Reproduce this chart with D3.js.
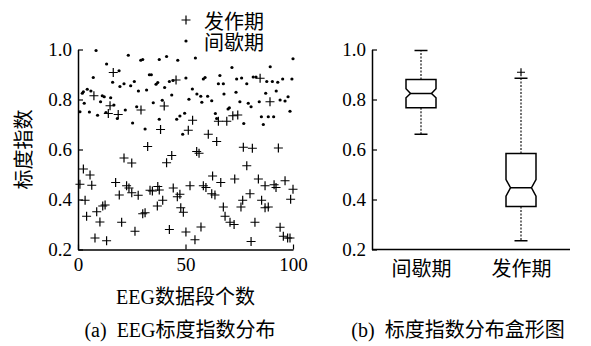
<!DOCTYPE html>
<html>
<head>
<meta charset="utf-8">
<script src="https://cdn.jsdelivr.net/npm/d3@7"></script>
<style>
  body { margin: 0; background: #fff; }
  text { font-family: "Liberation Serif", "Noto Sans CJK SC", serif; fill: #000; }
</style>
</head>
<body>
<svg id="chart" width="591" height="346"></svg>
<script>
// ---- scatter data: scaling index per EEG segment ----
// 发作期 (ictal) segments
const ictalX = [16.4,45.6,84.7,7.4,14.9,14.1,18.7,29.3,40.1,38.4,51.3,53.3,60.6,64.5,65.3,69.2,72,74.3,89.3,
  32.4,55.2,56.3,76.9,81.1,93.2,21.4,25,41.2,43.6,78.5,2.5,5.6,0.9,6.4,17.5,22.6,23.7,25,19.2,28,
  33.5,34.6,37.1,37.8,44.3,46.2,47.4,52.1,58.3,59.5,62.6,66.4,62.2,63.7,72.9,80,83.9,87,91.2,92.1,
  96.3,100,3.3,8.7,11.5,12.6,4,10.2,20.3,30.1,31.2,36.9,39.4,47.8,49,67.6,68.4,70.7,72.6,75.8,
  76.6,85.4,87,88.5,98.9,82.3,26.5,42.5,50.2,57.2,7.9,13.3,54.4,80.5,94,95.5,97.5,98.6];
const ictalY = [0.908,0.878,0.885,0.815,0.775,0.744,0.74,0.758,0.774,0.68,0.677,0.717,0.661,0.632,0.713,0.713,0.735,0.738,0.791,
  0.612,0.592,0.585,0.609,0.605,0.606,0.566,0.546,0.547,0.576,0.535,0.522,0.498,0.461,0.457,0.468,0.455,0.446,0.427,0.418,0.417,
  0.437,0.434,0.452,0.438,0.446,0.411,0.421,0.455,0.455,0.448,0.494,0.468,0.423,0.418,0.482,0.423,0.482,0.455,0.459,0.448,
  0.475,0.441,0.397,0.351,0.374,0.378,0.333,0.31,0.309,0.343,0.347,0.374,0.397,0.367,0.349,0.37,0.333,0.309,0.30,0.37,
  0.397,0.397,0.367,0.37,0.401,0.309,0.273,0.28,0.27,0.29,0.246,0.235,0.239,0.232,0.289,0.253,0.246,0.246];

// 间歇期 (interictal) segments
const interX = [8.4,23.4,13.3,29.2,30.1,37.8,41.2,46.4,54.6,71.6,89.4,100,7.1,16.1,19.5,21.4,24.5,26.2,33.2,34.1,
  28.1,31.9,36.3,37.1,40.3,42.5,44.2,50.2,58.3,59.1,66,65.3,67.6,73.8,76.1,78.5,81.5,82.8,87.8,90.4,
  92.9,95.2,99.5,2.5,4.3,6.0,11.3,12.2,2.0,15.2,2.9,0.9,5.3,9.1,10.5,13,16.7,22,18.3,25.4,
  27.3,31.2,35,37.8,39.2,43.6,45.9,47.4,49.6,48.7,51.6,53.2,55.3,57.1,57.6,60.3,62.2,63.9,64.5,67.9,
  69.8,70.4,73.5,75.3,77.1,79.2,80.5,84.3,85.3,86.2,87.3,88.5,91.0,92.2,94,96.3,97.7,98.6,19.1];
const interY = [0.996,0.977,0.942,0.957,0.96,0.96,0.972,0.957,0.966,0.928,0.931,0.963,0.888,0.869,0.852,0.863,0.855,0.872,0.899,0.899,
  0.834,0.838,0.861,0.868,0.848,0.872,0.876,0.886,0.882,0.888,0.896,0.863,0.863,0.882,0.886,0.863,0.89,0.89,0.872,0.872,
  0.869,0.882,0.882,0.831,0.841,0.834,0.815,0.811,0.825,0.807,0.785,0.751,0.75,0.737,0.791,0.748,0.778,0.758,0.724,0.706,
  0.771,0.682,0.787,0.721,0.797,0.818,0.721,0.734,0.745,0.661,0.801,0.842,0.822,0.813,0.789,0.813,0.795,0.744,0.724,0.822,
  0.762,0.767,0.829,0.791,0.704,0.785,0.771,0.791,0.731,0.70,0.825,0.731,0.731,0.834,0.798,0.794,0.811,0.753,0.915];

const xTicks = [0, 50, 100];
const yTicks = [0.2, 0.4, 0.6, 0.8, 1.0];

// ---- box plot summary per group ----
const boxGroups   = ["间歇期", "发作期"];
const whiskerLow  = [0.661, 0.235];
const quart1      = [0.767, 0.372];
const medians     = [0.824, 0.447];
const quart3      = [0.880, 0.584];
const whiskerHigh = [0.996, 0.885];
const notchLow    = [0.807, 0.413];
const notchHigh   = [0.843, 0.480];
const outliers    = [[], [0.909]];

const legendLabels = ["发作期", "间歇期"];

const svg = d3.select("#chart");
const CJK = 20;

// ---------- (a) scatter ----------
const x = d3.scaleLinear().domain([0, 100]).range([78, 293]);
const y = d3.scaleLinear().domain([0.2, 1.0]).range([249.5, 49.5]);

const crossPath = s => `M${-s},0H${s}M0,${-s}V${s}`;

const gA = svg.append("g");
gA.selectAll("path.ictal")
  .data(d3.range(ictalX.length))
  .join("path")
  .attr("class", "ictal")
  .attr("transform", i => `translate(${x(ictalX[i])},${y(ictalY[i])})`)
  .attr("d", crossPath(4.5))
  .attr("stroke", "#000").attr("stroke-width", 1.2).attr("fill", "none");

gA.selectAll("circle.inter")
  .data(d3.range(interX.length))
  .join("circle")
  .attr("class", "inter")
  .attr("cx", i => x(interX[i]))
  .attr("cy", i => y(interY[i]))
  .attr("r", 1.6)
  .attr("fill", "#000");

function styleAxis(g) {
  g.select(".domain").attr("stroke", "#000").attr("stroke-width", 1.5);
  g.selectAll(".tick line").attr("stroke", "#000").attr("stroke-width", 1.2);
  g.selectAll(".tick text").style("font-family", "'Liberation Serif', serif").attr("font-size", 19);
}

svg.append("g")
  .attr("transform", `translate(${x(0)},0)`)
  .call(d3.axisLeft(y).tickValues(yTicks).tickFormat(d3.format(".1f"))
        .tickSize(-5).tickSizeOuter(0).tickPadding(6))
  .call(styleAxis);

svg.append("g")
  .attr("transform", `translate(0,${y(0.2)})`)
  .call(d3.axisBottom(x).tickValues(xTicks).tickFormat(d3.format("d"))
        .tickSize(-5).tickSizeOuter(0).tickPadding(8))
  .call(styleAxis);

// legend
const legend = svg.append("g");
legendLabels.forEach((lab, i) => {
  const ly = 20 + i * 21;
  if (i === 0) {
    legend.append("path").attr("transform", `translate(186,${ly})`)
      .attr("d", crossPath(4.5)).attr("stroke", "#000").attr("stroke-width", 1.2);
  } else {
    legend.append("circle").attr("cx", 186).attr("cy", ly).attr("r", 1.6).attr("fill", "#000");
  }
  legend.append("text").attr("x", 204).attr("y", ly)
    .attr("dominant-baseline", "central").attr("font-size", CJK)
    .style("font-family", "'Noto Sans CJK SC', sans-serif").text(lab);
});

// axis titles
svg.append("text")
  .attr("transform", `translate(22,${y(0.6)}) rotate(-90)`)
  .attr("text-anchor", "middle").attr("dominant-baseline", "central")
  .attr("font-size", CJK).style("font-family", "'Noto Sans CJK SC', sans-serif")
  .text("标度指数");

svg.append("text")
  .attr("x", x(50)).attr("y", 297)
  .attr("text-anchor", "middle").attr("dominant-baseline", "central")
  .attr("font-size", CJK)
  .text("EEG数据段个数");

svg.append("text")
  .attr("x", 180).attr("y", 330)
  .attr("text-anchor", "middle").attr("dominant-baseline", "central")
  .attr("font-size", CJK).attr("xml:space", "preserve")
  .text("(a)  EEG标度指数分布");

// ---------- (b) box plot ----------
const xb = d3.scalePoint().domain(boxGroups).range([372, 570]).padding(0.49);
const yb = d3.scaleLinear().domain([0.2, 1.0]).range([249.5, 49.5]);
const halfW = 15, notchIn = 4.5, capW = 6.5;

const gB = svg.append("g");
boxGroups.forEach((g, i) => {
  const c = xb(g);
  const x0 = c - halfW, x1 = c + halfW;
  // dashed whiskers
  [[quart3[i], whiskerHigh[i]], [quart1[i], whiskerLow[i]]].forEach(([a, b]) => {
    gB.append("line").attr("x1", c).attr("x2", c).attr("y1", yb(a)).attr("y2", yb(b))
      .attr("stroke", "#000").attr("stroke-width", 1.1).attr("stroke-dasharray", "2,1.5");
    gB.append("line").attr("x1", c - capW).attr("x2", c + capW).attr("y1", yb(b)).attr("y2", yb(b))
      .attr("stroke", "#000").attr("stroke-width", 1.5);
  });
  // notched box
  const p = d3.path();
  p.moveTo(x0, yb(quart3[i]));
  p.lineTo(x1, yb(quart3[i]));
  p.lineTo(x1, yb(notchHigh[i]));
  p.lineTo(x1 - notchIn, yb(medians[i]));
  p.lineTo(x1, yb(notchLow[i]));
  p.lineTo(x1, yb(quart1[i]));
  p.lineTo(x0, yb(quart1[i]));
  p.lineTo(x0, yb(notchLow[i]));
  p.lineTo(x0 + notchIn, yb(medians[i]));
  p.lineTo(x0, yb(notchHigh[i]));
  p.closePath();
  gB.append("path").attr("d", p.toString())
    .attr("fill", "#fff").attr("stroke", "#000").attr("stroke-width", 1.5);
  gB.append("line").attr("x1", x0 + notchIn).attr("x2", x1 - notchIn)
    .attr("y1", yb(medians[i])).attr("y2", yb(medians[i]))
    .attr("stroke", "#000").attr("stroke-width", 1.5);
  outliers[i].forEach(v => {
    gB.append("path").attr("transform", `translate(${c},${yb(v)})`)
      .attr("d", crossPath(4)).attr("stroke", "#000").attr("stroke-width", 1.2);
  });
});

svg.append("g")
  .attr("transform", "translate(372,0)")
  .call(d3.axisLeft(yb).tickValues(yTicks).tickFormat(d3.format(".1f"))
        .tickSize(-5).tickSizeOuter(0).tickPadding(6))
  .call(styleAxis);

svg.append("g")
  .attr("transform", `translate(0,${yb(0.2)})`)
  .call(d3.axisBottom(xb).tickSize(0).tickSizeOuter(0).tickPadding(12))
  .call(styleAxis)
  .call(g => g.select(".domain").attr("d", "M372,0H570"))
  .call(g => g.selectAll(".tick text").attr("font-size", CJK)
    .style("font-family", "'Noto Sans CJK SC', sans-serif"));

svg.append("text")
  .attr("x", 458).attr("y", 330)
  .attr("text-anchor", "middle").attr("dominant-baseline", "central")
  .attr("font-size", CJK).attr("xml:space", "preserve")
  .text("(b)  标度指数分布盒形图");
</script>
</body>
</html>
